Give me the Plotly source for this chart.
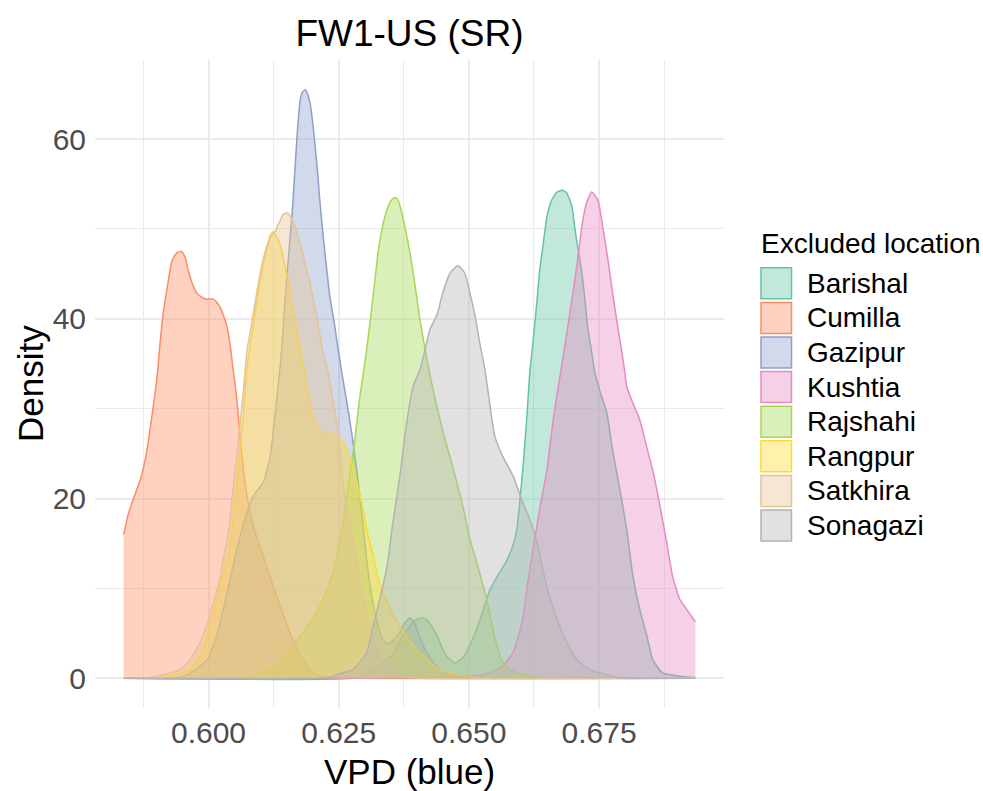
import plotly.graph_objects as go

# ---------------- data ----------------
locations = ["Barishal", "Cumilla", "Gazipur", "Kushtia",
             "Rajshahi", "Rangpur", "Satkhira", "Sonagazi"]
colors = ["#66C2A5", "#FC8D62", "#8DA0CB", "#E78AC3",
          "#A6D854", "#FFD92F", "#E5C494", "#B3B3B3"]

x_ticks = [0.600, 0.625, 0.650, 0.675]
x_tick_labels = ["0.600", "0.625", "0.650", "0.675"]
x_minor = [0.5875, 0.6125, 0.6375, 0.6625, 0.6875]
y_ticks = [0, 20, 40, 60]
y_tick_labels = ["0", "20", "40", "60"]
y_minor = [10, 30, 50]

barishal_vpd = [0.5837, 0.6291, 0.6310, 0.6329, 0.6354, 0.6373, 0.6393, 0.6402, 0.6412, 0.6421,
                0.6431, 0.6441, 0.6450, 0.6460, 0.6473, 0.6487, 0.6496, 0.6515, 0.6527, 0.6540,
                0.6554, 0.6569, 0.6583, 0.6592, 0.6598, 0.6604, 0.6611, 0.6617, 0.6623, 0.6631,
                0.6636, 0.6642, 0.6650, 0.6659, 0.6669, 0.6679, 0.6688, 0.6698, 0.6703, 0.6709,
                0.6717, 0.6723, 0.6728, 0.6735, 0.6742, 0.6751, 0.6765, 0.6776, 0.6790, 0.6803,
                0.6815, 0.6828, 0.6842, 0.6853, 0.6872, 0.6899, 0.6935]
barishal_density = [0, 0.1, 0.7, 1.5, 2.6, 4.7, 6.3, 6.6, 6.7, 6.4,
                    5.6, 4.5, 3.2, 2.3, 1.7, 2.2, 3.0, 5.5, 7.5, 9.8,
                    11.3, 12.7, 14.5, 16.5, 19.8, 23.5, 28.8, 34.0, 37.3, 42.1,
                    45.4, 48.0, 51.4, 53.2, 54.1, 54.3, 54.0, 52.5, 50.3, 48.0,
                    45.1, 42.1, 39.1, 36.6, 34.0, 32.1, 29.5, 25.4, 21.0, 16.6,
                    11.4, 7.7, 4.7, 2.1, 0.6, 0.3, 0.1]

cumilla_vpd = [0.5837, 0.5846, 0.5856, 0.5869, 0.5879, 0.5888, 0.5898, 0.5902, 0.5907, 0.5913,
               0.5921, 0.5930, 0.5940, 0.5948, 0.5955, 0.5961, 0.5971, 0.5980, 0.5994, 0.6009,
               0.6019, 0.6028, 0.6036, 0.6042, 0.6047, 0.6051, 0.6057, 0.6061, 0.6074, 0.6086,
               0.6105, 0.6124, 0.6141, 0.6162, 0.6182, 0.6201, 0.6220, 0.6253, 0.6935]
cumilla_density = [16.0, 18.3, 20.0, 22.1, 24.5, 27.8, 32.0, 34.0, 37.3, 40.6,
                   43.6, 46.5, 47.4, 47.5, 46.9, 45.4, 43.6, 42.7, 42.2, 42.2,
                   41.6, 40.5, 39.0, 36.9, 34.5, 32.8, 29.5, 26.6, 20.3, 16.9,
                   13.6, 10.3, 7.5, 4.3, 2.1, 0.6, 0.2, 0.05, 0]

gazipur_vpd = [0.5837, 0.5930, 0.5955, 0.5965, 0.5980, 0.5998, 0.6017, 0.6036, 0.6055, 0.6074,
               0.6086, 0.6105, 0.6118, 0.6130, 0.6139, 0.6147, 0.6153, 0.6161, 0.6170, 0.6176,
               0.6180, 0.6186, 0.6189, 0.6195, 0.6201, 0.6209, 0.6214, 0.6220, 0.6228, 0.6233,
               0.6243, 0.6249, 0.6256, 0.6266, 0.6276, 0.6285, 0.6295, 0.6304, 0.6314, 0.6324,
               0.6333, 0.6343, 0.6354, 0.6368, 0.6377, 0.6387, 0.6397, 0.6406, 0.6420, 0.6435,
               0.6454, 0.6483, 0.6521, 0.6935]
gazipur_density = [0, 0.05, 0.3, 0.6, 1.2, 2.1, 5.0, 9.6, 14.5, 18.5,
                   20.3, 21.8, 24.5, 30.5, 35.5, 42.0, 46.5, 52.0, 60.3, 64.3,
                   65.2, 65.5, 65.2, 64.0, 61.4, 56.6, 53.0, 49.3, 45.0, 42.5,
                   39.0, 36.6, 34.0, 30.6, 26.9, 23.0, 18.0, 13.0, 9.0, 6.2,
                   4.5, 3.8, 4.2, 5.2, 6.2, 6.7, 6.0, 4.5, 2.8, 1.5,
                   0.6, 0.2, 0.05, 0]

kushtia_vpd = [0.5837, 0.6290, 0.6515, 0.6540, 0.6565, 0.6585, 0.6602, 0.6613, 0.6623, 0.6636,
               0.6650, 0.6662, 0.6675, 0.6680, 0.6690, 0.6700, 0.6709, 0.6717, 0.6726, 0.6736,
               0.6748, 0.6757, 0.6767, 0.6776, 0.6786, 0.6793, 0.6799, 0.6803, 0.6815, 0.6828,
               0.6843, 0.6853, 0.6866, 0.6880, 0.6891, 0.6905, 0.6918, 0.6935]
kushtia_density = [0, 0.02, 0.3, 0.6, 1.4, 2.9, 6.2, 10.6, 14.3, 18.8,
                   23.2, 28.8, 33.6, 35.4, 39.1, 42.9, 46.6, 50.3, 52.9, 54.1,
                   53.2, 50.3, 46.6, 42.9, 39.1, 36.6, 34.3, 32.5, 30.6, 28.8,
                   25.4, 23.2, 19.5, 15.1, 11.4, 8.8, 7.7, 6.3]

rajshahi_vpd = [0.5837, 0.6049, 0.6086, 0.6118, 0.6147, 0.6182, 0.6214, 0.6239, 0.6258, 0.6272,
                0.6281, 0.6291, 0.6301, 0.6310, 0.6318, 0.6326, 0.6335, 0.6345, 0.6351, 0.6358,
                0.6364, 0.6368, 0.6377, 0.6387, 0.6397, 0.6406, 0.6416, 0.6425, 0.6450, 0.6469,
                0.6487, 0.6502, 0.6517, 0.6535, 0.6550, 0.6563, 0.6579, 0.6604, 0.6636, 0.6935]
rajshahi_density = [0, 0.05, 0.3, 1.0, 2.6, 5.1, 8.0, 11.7, 17.3, 22.9,
                    26.5, 31.5, 35.4, 39.5, 43.5, 47.5, 50.5, 52.5, 53.2, 53.5,
                    53.2, 52.5, 50.3, 47.3, 43.6, 39.9, 36.6, 33.8, 27.5, 23.5,
                    19.5, 15.5, 12.5, 8.6, 4.5, 2.0, 1.0, 0.4, 0.1, 0]

rangpur_vpd = [0.5837, 0.5898, 0.5932, 0.5965, 0.5984, 0.5998, 0.6009, 0.6022, 0.6036, 0.6042,
               0.6047, 0.6055, 0.6061, 0.6067, 0.6070, 0.6076, 0.6084, 0.6090, 0.6099, 0.6105,
               0.6113, 0.6118, 0.6124, 0.6132, 0.6141, 0.6151, 0.6161, 0.6170, 0.6180, 0.6189,
               0.6199, 0.6209, 0.6220, 0.6239, 0.6253, 0.6266, 0.6278, 0.6285, 0.6297, 0.6306,
               0.6316, 0.6329, 0.6343, 0.6354, 0.6368, 0.6393, 0.6420, 0.6444, 0.6483, 0.6521,
               0.6935]
rangpur_density = [0, 0.05, 0.3, 1.0, 2.5, 4.7, 7.3, 10.2, 13.2, 15.0,
                   17.5, 22.0, 25.5, 29.5, 32.0, 35.5, 38.5, 41.0, 44.0, 46.0,
                   48.0, 49.2, 49.7, 49.0, 47.5, 44.7, 41.4, 38.5, 35.4, 32.4,
                   29.4, 28.0, 27.3, 27.2, 26.8, 25.3, 23.5, 21.8, 18.8, 16.0,
                   13.8, 10.5, 8.5, 7.0, 5.8, 3.6, 2.1, 1.0, 0.3, 0.05,
                   0]

satkhira_vpd = [0.5837, 0.5879, 0.5907, 0.5946, 0.5965, 0.5984, 0.5998, 0.6009, 0.6022, 0.6028,
                0.6036, 0.6042, 0.6047, 0.6055, 0.6061, 0.6067, 0.6074, 0.6080, 0.6090, 0.6099,
                0.6109, 0.6118, 0.6128, 0.6132, 0.6138, 0.6143, 0.6151, 0.6157, 0.6166, 0.6176,
                0.6182, 0.6189, 0.6195, 0.6199, 0.6209, 0.6218, 0.6228, 0.6233, 0.6239, 0.6247,
                0.6253, 0.6258, 0.6272, 0.6285, 0.6297, 0.6310, 0.6329, 0.6349, 0.6368, 0.6397,
                0.6935]
satkhira_density = [0, 0.05, 0.3, 1.0, 2.1, 4.0, 6.2, 8.4, 11.0, 13.2,
                    15.5, 18.0, 21.0, 25.0, 28.5, 32.0, 36.5, 38.5, 42.0, 45.0,
                    47.5, 49.0, 49.7, 50.3, 51.0, 51.6, 51.8, 51.4, 50.3, 48.3,
                    47.0, 45.3, 44.0, 42.8, 40.0, 36.8, 34.5, 33.0, 31.0, 28.0,
                    25.3, 22.0, 17.0, 13.0, 9.0, 5.5, 2.5, 1.0, 0.3, 0.05,
                    0]

sonagazi_vpd = [0.5837, 0.6233, 0.6246, 0.6278, 0.6304, 0.6316, 0.6329, 0.6343, 0.6354, 0.6368,
                0.6377, 0.6393, 0.6406, 0.6416, 0.6425, 0.6439, 0.6450, 0.6464, 0.6479, 0.6492,
                0.6502, 0.6512, 0.6521, 0.6531, 0.6540, 0.6550, 0.6565, 0.6585, 0.6604, 0.6617,
                0.6631, 0.6642, 0.6655, 0.6669, 0.6688, 0.6707, 0.6732, 0.6765, 0.6786, 0.6935]
sonagazi_density = [0, 0.1, 0.4, 1.0, 2.9, 5.8, 8.8, 12.5, 17.3, 22.7,
                    27.0, 32.5, 34.3, 36.6, 38.8, 40.5, 42.9, 45.1, 45.9, 45.1,
                    42.9, 40.3, 37.3, 34.3, 30.6, 26.9, 24.7, 22.5, 19.5, 17.7,
                    15.1, 12.1, 9.1, 6.6, 4.0, 2.1, 1.0, 0.4, 0.1, 0]

series_x = [barishal_vpd, cumilla_vpd, gazipur_vpd, kushtia_vpd,
            rajshahi_vpd, rangpur_vpd, satkhira_vpd, sonagazi_vpd]
series_y = [barishal_density, cumilla_density, gazipur_density, kushtia_density,
            rajshahi_density, rangpur_density, satkhira_density, sonagazi_density]

# ---------------- figure ----------------
FONT = "Liberation Sans, Arial, Helvetica, sans-serif"
W, H = 983, 791
PL, PR, PT, PB = 95, 724, 60, 708   # plot panel in pixels
GRID = "#EBEBEB"


def rgba(hex_color, a):
    h = hex_color.lstrip("#")
    r, g, b = int(h[0:2], 16), int(h[2:4], 16), int(h[4:6], 16)
    return f"rgba({r},{g},{b},{a})"


def px_x(px):
    return (px - PL) / (PR - PL)


def px_y(py):
    return (PB - py) / (PB - PT)


fig = go.Figure()
for name, col, xs, ys in zip(locations, colors, series_x, series_y):
    if len(xs) != len(ys):
        raise ValueError(name)
    fig.add_trace(go.Scatter(
        x=xs, y=ys, name=name, mode="lines",
        line=dict(color=col, width=1.5, shape="spline", smoothing=0.5),
        fill="tozeroy", fillcolor=rgba(col, 0.4),
        showlegend=False, hoverinfo="x+y+name",
    ))

# manual legend (ggplot style)
shapes = []
annotations = []
annotations.append(dict(
    text="Excluded location", x=px_x(759), y=px_y(243), xref="paper", yref="paper",
    xanchor="left", yanchor="middle", showarrow=False,
    font=dict(family=FONT, size=28, color="black")))
for i, (name, col) in enumerate(zip(locations, colors)):
    cy = 283.3 + i * 34.6
    shapes.append(dict(
        type="rect", xref="paper", yref="paper",
        x0=px_x(761), x1=px_x(791.5), y0=px_y(cy + 15.5), y1=px_y(cy - 15.5),
        line=dict(color=col, width=1.5), fillcolor=rgba(col, 0.4)))
    annotations.append(dict(
        text=name, x=px_x(805), y=px_y(cy), xref="paper", yref="paper",
        xanchor="left", yanchor="middle", showarrow=False,
        font=dict(family=FONT, size=28, color="black")))

# axis titles
annotations.append(dict(
    text="VPD (blue)", x=0.5, y=px_y(771), xref="paper", yref="paper",
    xanchor="center", yanchor="middle", showarrow=False,
    font=dict(family=FONT, size=35, color="black")))
annotations.append(dict(
    text="Density", x=px_x(30), y=0.5, xref="paper", yref="paper",
    xanchor="center", yanchor="middle", showarrow=False, textangle=-90,
    font=dict(family=FONT, size=35, color="black")))

fig.update_layout(
    width=W, height=H,
    margin=dict(l=PL, r=W - PR, t=PT, b=H - PB, autoexpand=False),
    paper_bgcolor="white", plot_bgcolor="white",
    showlegend=False,
    font=dict(family=FONT),
    title=dict(text="FW1-US (SR)", x=0.5, xref="paper", xanchor="center",
               y=1 - 33 / H, yref="container", yanchor="middle",
               font=dict(family=FONT, size=37, color="black")),
    shapes=shapes, annotations=annotations,
)
fig.update_xaxes(
    range=[0.5782, 0.6990], tickmode="array", tickvals=x_ticks, ticktext=x_tick_labels,
    showgrid=True, gridcolor=GRID, gridwidth=1.6, zeroline=False, showline=False,
    ticks="", ticklabelstandoff=4,
    tickfont=dict(family=FONT, size=30, color="#4D4D4D"),
    minor=dict(tickmode="array", tickvals=x_minor, showgrid=True, gridcolor=GRID, gridwidth=1.1),
)
fig.update_yaxes(
    range=[-3.3, 68.8], tickmode="array", tickvals=y_ticks, ticktext=y_tick_labels,
    showgrid=True, gridcolor=GRID, gridwidth=1.6, zeroline=False, showline=False,
    ticks="", ticklabelstandoff=8,
    tickfont=dict(family=FONT, size=30, color="#4D4D4D"),
    minor=dict(tickmode="array", tickvals=y_minor, showgrid=True, gridcolor=GRID, gridwidth=1.1),
)

fig.write_html(
    "out.html",
    config={"displayModeBar": False},
    post_script="document.body.style.margin='0';document.body.style.overflow='hidden';",
)
